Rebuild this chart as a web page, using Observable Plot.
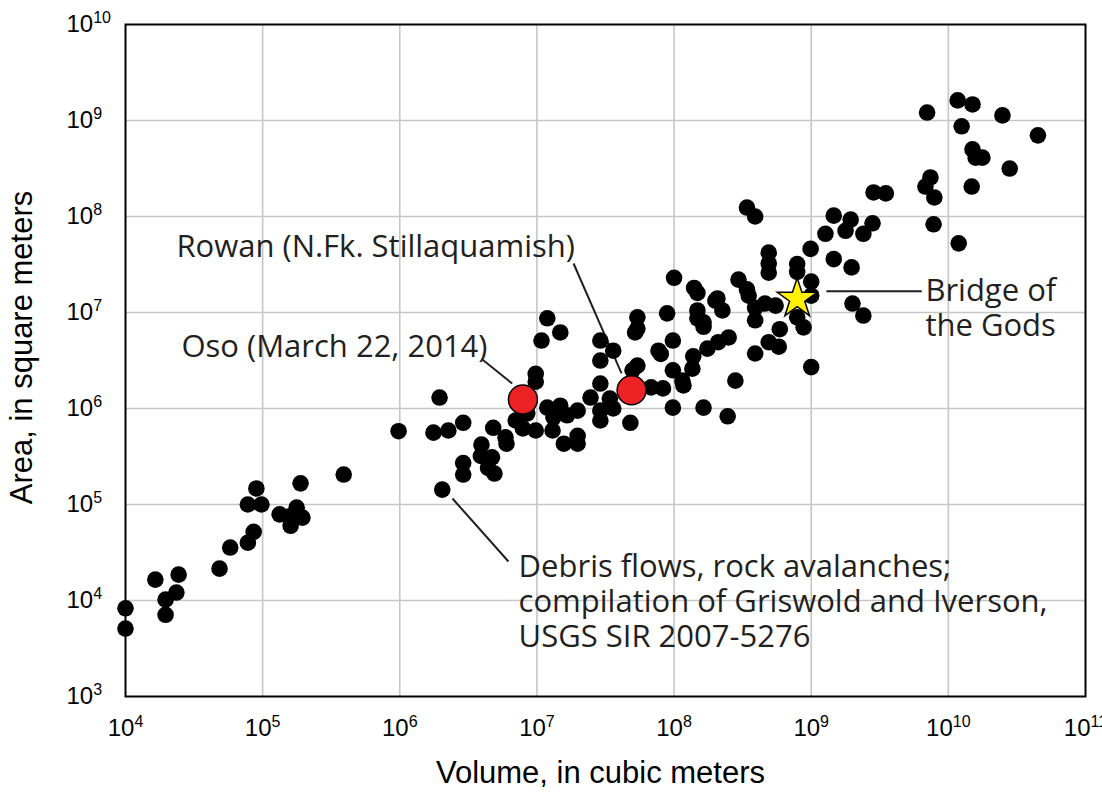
<!DOCTYPE html>
<html>
<head>
<meta charset="utf-8">
<script src="https://cdn.jsdelivr.net/npm/d3@7"></script>
<script src="https://cdn.jsdelivr.net/npm/@observablehq/plot@0.6"></script>
<style>
  html, body { margin: 0; padding: 0; background: #fff; }
</style>
</head>
<body>
<div id="chart"></div>
<script>
// Debris flows / rock avalanches (Griswold & Iverson compilation)
const volume = [
  1e4, 1e4, 1.65e4, 2.44e4, 2.35e4, 1.96e4, 1.96e4, 4.85e4, 5.8e4, 7.8e4,
  8.6e4, 7.8e4, 9.8e4, 9.0e4, 1.33e5, 1.55e5, 1.77e5, 1.6e5, 1.95e5, 1.89e5,
  3.9e5, 9.8e5, 1.76e6, 2.26e6, 1.95e6, 2.04e6, 2.9e6, 4.8e6, 5.9e6, 6.0e6,
  3.94e6, 3.9e6, 4.7e6, 4.4e6, 4.9e6, 2.9e6, 2.9e6, 7.0e6, 7.9e6, 9.8e6,
  8.5e6, 1.19e7, 1.48e7, 1.32e7, 1.66e7, 1.3e7, 1.57e7, 1.98e7, 1.98e7, 1.98e7,
  1.19e7, 1.48e7, 1.08e7, 9.8e6, 9.8e6, 2.46e7, 2.9e7, 2.9e7, 2.9e7, 3.6e7,
  2.9e7, 2.9e7, 3.6e7, 4.8e7, 5.4e7, 5.4e7, 5.4e7, 5.2e7, 8.9e7, 9.8e7,
  7.7e7, 8.0e7, 6.8e7, 8.3e7, 9.8e7, 1.15e8, 1.17e8, 9.8e7, 1.0e8, 1.4e8,
  1.48e8, 2.0e8, 1.48e8, 1.48e8, 1.64e8, 1.64e8, 1.38e8, 1.75e8, 2.1e8, 2.5e8,
  1.36e8, 1.64e8, 2.8e8, 2.46e8, 3.4e8, 3.9e8, 2.95e8, 3.4e8, 3.5e8, 2.07e8,
  2.25e8, 3.9e8, 4.6e8, 5.5e8, 3.9e8, 7.9e8, 8.8e8, 5.9e8, 4.9e8, 5.8e8,
  3.9e8, 1.0e9, 4.9e8, 4.9e8, 4.9e8, 7.9e8, 7.9e8, 1.0e9, 1.0e9, 9.9e8,
  1.46e9, 1.97e9, 1.46e9, 1.94e9, 1.78e9, 1.27e9, 2.4e9, 2.8e9, 2.85e9, 3.5e9,
  2.0e9, 2.4e9, 7.0e9, 1.17e10, 1.5e10, 2.48e10, 1.25e10, 4.5e10, 1.5e10, 1.58e10,
  1.77e10, 2.8e10, 1.48e10, 7.4e9, 6.8e9, 7.9e9, 7.8e9, 1.19e10, 3.4e7, 4.98e7
];
const area = [
  8.3e3, 5.1e3, 1.65e4, 1.86e4, 1.21e4, 1.02e4, 7.1e3, 2.15e4, 3.56e4, 4.0e4,
  5.2e4, 1.0e5, 1.0e5, 1.47e5, 7.9e4, 7.5e4, 9.3e4, 6.0e4, 7.3e4, 1.66e5,
  2.05e5, 5.8e5, 5.6e5, 5.9e5, 1.3e6, 1.43e5, 7.1e5, 6.3e5, 5.0e5, 4.3e5,
  4.2e5, 3.2e5, 3.1e5, 2.4e5, 2.1e5, 2.7e5, 2.05e5, 7.5e5, 6.2e5, 5.9e5,
  8.9e5, 1.02e6, 1.07e6, 8.1e5, 8.5e5, 5.9e5, 4.3e5, 5.2e5, 4.3e5, 9.5e5,
  8.7e6, 6.2e6, 5.1e6, 2.3e6, 1.9e6, 1.3e6, 1.82e6, 3.16e6, 5.1e6, 4.0e6,
  9.5e5, 7.5e5, 1.0e6, 7.1e5, 2.8e6, 8.9e6, 6.8e6, 6.2e6, 9.8e6, 5.1e6,
  4.0e6, 3.7e6, 1.66e6, 1.62e6, 2.5e6, 1.95e6, 1.74e6, 1.02e6, 2.3e7, 1.8e7,
  1.6e7, 1.33e7, 1.05e7, 8.7e6, 7.9e6, 7.1e6, 3.5e6, 4.2e6, 4.9e6, 5.5e6,
  2.6e6, 1.02e6, 1.95e6, 8.3e5, 1.24e8, 1.0e8, 2.2e7, 1.74e7, 1.5e7, 1.4e7,
  1.05e7, 1.12e7, 1.24e7, 1.18e7, 8.3e6, 8.9e6, 7.0e6, 6.7e6, 4.9e6, 4.4e6,
  3.74e6, 2.7e6, 4.2e7, 3.24e7, 2.6e7, 3.2e7, 2.65e7, 2.1e7, 1.5e7, 4.6e7,
  3.6e7, 2.95e7, 1.02e8, 9.3e7, 7.1e7, 6.6e7, 6.6e7, 8.5e7, 1.78e8, 1.74e8,
  1.24e7, 9.3e6, 1.21e9, 1.62e9, 1.47e9, 1.13e9, 8.7e8, 7.0e8, 5.0e8, 4.1e8,
  4.1e8, 3.16e8, 2.05e8, 2.55e8, 2.05e8, 1.58e8, 8.3e7, 5.25e7, 1.27e6, 2.5e6
];

// Highlighted events
const eventNames  = ["Oso (March 22, 2014)", "Rowan (N.Fk. Stillaquamish)"];
const eventVolume = [7.9e6, 4.9e7];
const eventArea   = [1.24e6, 1.55e6];
const bridgeVolume = [7.9e8];
const bridgeArea   = [1.39e7];

// Axis ticks (powers of ten)
const xExponents = [4, 5, 6, 7, 8, 9, 10, 11];
const yExponents = [3, 4, 5, 6, 7, 8, 9, 10];
const xTitle = "Volume, in cubic meters";
const yTitle = "Area, in square meters";

// Annotation texts (anchored in data units) and leader lines
const labelTexts = [
  "Rowan (N.Fk. Stillaquamish)",
  "Oso (March 22, 2014)",
  "Bridge of\nthe Gods",
  "Debris flows, rock avalanches;\ncompilation of Griswold and Iverson,\nUSGS SIR 2007-5276"
];
const labelX = [2.35e4, 2.56e4, 6.8e9, 7.35e6];
const labelY = [5.0e7, 4.5e6, 1.13e7, 1.0e4];
const leaderX1 = [1.85e7, 4.0e6, 1.29e9, 2.42e6];
const leaderY1 = [3.24e7, 3.24e6, 1.66e7, 1.155e5];
const leaderX2 = [4.14e7, 6.6e6, 6.4e9, 6.2e6];
const leaderY2 = [2.32e6, 1.82e6, 1.66e7, 2.55e4];

const points = volume.map((v, i) => ({v, a: area[i]}));
const events = eventNames.map((n, i) => ({n, v: eventVolume[i], a: eventArea[i]}));
const bridge = bridgeVolume.map((v, i) => ({v, a: bridgeArea[i]}));
const labels = labelTexts.map((t, i) => ({t, x: labelX[i], y: labelY[i]}));
const leaders = leaderX1.map((x1, i) => ({x1, y1: leaderY1[i], x2: leaderX2[i], y2: leaderY2[i]}));
const xTicks = xExponents.map(e => 10 ** e);
const yTicks = yExponents.map(e => 10 ** e);
const xGrid = xTicks.slice(1, -1);
const yGrid = yTicks.slice(1, -1);
const powLabel = d => "10^" + Math.round(Math.log10(d));

const annFont = "'Open Sans', 'Noto Sans', sans-serif";
const ink = "#231f20";

const chart = Plot.plot({
  width: 1102,
  height: 793,
  marginLeft: 125,
  marginRight: 17,
  marginTop: 24,
  marginBottom: 97,
  style: {fontFamily: "'Liberation Sans', Arial, sans-serif", background: "#fff", color: "#000"},
  x: {type: "log", domain: [1e4, 1e11], axis: null},
  y: {type: "log", domain: [1e3, 1e10], axis: null},
  marks: [
    Plot.ruleX(xGrid, {stroke: "#c6c6c6", strokeWidth: 1.6}),
    Plot.ruleY(yGrid, {stroke: "#c6c6c6", strokeWidth: 1.6}),
    Plot.frame({stroke: "#000", strokeWidth: 2}),
    Plot.text(xTicks, {x: d => d, frameAnchor: "bottom", dy: 32, textAnchor: "middle", lineAnchor: "middle",
      text: powLabel, fill: "#000", fontSize: 24,
      fontFamily: "'Liberation Sans Narrow', 'Liberation Sans', Arial, sans-serif"}),
    Plot.text(yTicks, {y: d => d, frameAnchor: "left", dx: -59, textAnchor: "start", lineAnchor: "middle",
      text: powLabel, fill: "#000", fontSize: 24}),
    Plot.text([xTitle], {frameAnchor: "bottom", dx: -5, dy: 77, lineAnchor: "middle", textAnchor: "middle",
      fontSize: 31, fill: "#000"}),
    Plot.text([yTitle], {frameAnchor: "left", dx: -103, dy: -13, rotate: -90, textAnchor: "middle",
      lineAnchor: "middle", fontSize: 31, fill: "#000"}),
    Plot.link(leaders, {x1: "x1", y1: "y1", x2: "x2", y2: "y2", stroke: ink, strokeWidth: 2}),
    Plot.dot(points, {x: "v", y: "a", r: 8.3, fill: "#000"}),
    Plot.dot(events, {x: "v", y: "a", r: 14.5, fill: "#ed2224", stroke: "#000", strokeWidth: 1.5}),
    Plot.dot(bridge, {x: "v", y: "a", symbol: "star", r: 12.5, fill: "#fff200", stroke: "#000", strokeWidth: 1.5}),
    Plot.text(labels, {x: "x", y: "y", text: "t", textAnchor: "start", lineAnchor: "middle",
      lineHeight: 1.13, fontSize: 31, fill: ink, fontFamily: annFont})
  ]
});

// turn "10^k" tick labels into 10 with a superscript exponent
const ns = "http://www.w3.org/2000/svg";
chart.querySelectorAll("text").forEach(t => {
  const s = t.textContent;
  if (!/^10\^\d+$/.test(s)) return;
  const [b, e] = s.split("^");
  t.textContent = "";
  const tb = document.createElementNS(ns, "tspan");
  tb.textContent = b;
  const te = document.createElementNS(ns, "tspan");
  te.textContent = e;
  te.setAttribute("font-size", "16");
  te.setAttribute("dy", "-9");
  t.appendChild(tb);
  t.appendChild(te);
});

document.getElementById("chart").appendChild(chart);
</script>
</body>
</html>
